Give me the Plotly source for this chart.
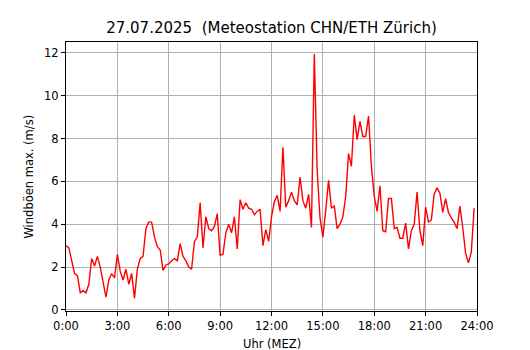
import pandas as pd
import plotly.graph_objects as go

times = pd.date_range("2025-07-27 00:00", periods=144, freq="10min")

gusts = [
    # 00:00 - 02:50
    3.0, 2.9, 2.3, 1.7, 1.6, 0.8, 0.9, 0.8, 1.2, 2.4, 2.05, 2.5, 2.0, 1.2, 0.6, 1.4, 1.7, 1.5,
    # 03:00 - 05:50
    2.6, 1.8, 1.4, 1.9, 1.2, 1.7, 0.55, 1.9, 2.4, 2.5, 3.8, 4.1, 4.1, 3.4, 2.95, 2.8, 1.85, 2.1,
    # 06:00 - 08:50
    2.15, 2.3, 2.4, 2.3, 3.1, 2.5, 2.3, 2.0, 1.9, 3.2, 3.4, 5.0, 2.9, 4.35, 3.8, 3.7, 3.9, 4.5,
    # 09:00 - 11:50
    2.55, 2.6, 3.6, 4.0, 3.6, 4.35, 2.85, 5.15, 4.7, 5.0, 4.75, 4.7, 4.45, 4.6, 4.7, 3.0, 3.75, 3.2,
    # 12:00 - 14:50
    4.35, 5.05, 5.35, 4.6, 7.6, 4.8, 5.1, 5.5, 5.1, 4.9, 6.2, 5.1, 4.75, 5.4, 3.85, 11.95, 6.5, 4.3,
    # 15:00 - 17:50
    3.4, 4.65, 6.05, 4.75, 4.85, 3.8, 4.0, 4.35, 5.3, 7.3, 6.7, 9.1, 7.95, 8.8, 8.1, 8.1, 9.05, 6.7,
    # 18:00 - 20:50
    5.3, 4.6, 5.8, 3.7, 3.65, 5.2, 5.2, 3.8, 3.85, 3.35, 3.35, 4.05, 2.85, 3.7, 4.0, 5.5, 3.7, 3.0,
    # 21:00 - 23:50
    4.8, 4.1, 4.2, 5.4, 5.7, 5.45, 4.55, 5.2, 4.55, 4.3, 4.1, 3.8, 4.85, 3.85, 2.65, 2.2, 2.7, 4.75,
]

tick_times = pd.date_range("2025-07-27 00:00", periods=9, freq="3h")
tick_labels = ["0:00", "3:00", "6:00", "9:00", "12:00", "15:00", "18:00", "21:00", "24:00"]
y_ticks = [0, 2, 4, 6, 8, 10, 12]

title_text = "27.07.2025  (Meteostation CHN/ETH Zürich)"
x_title = "Uhr (MEZ)"
y_title = "Windböen max. (m/s)"

font_family = "DejaVu Sans"

fig = go.Figure()
fig.add_trace(go.Scatter(
    x=times, y=gusts, mode="lines",
    line=dict(color="#ff0000", width=1.4),
    showlegend=False, hoverinfo="skip",
))

fig.update_layout(
    width=530, height=350,
    margin=dict(l=66, r=53, t=42, b=39, autoexpand=False),
    paper_bgcolor="white", plot_bgcolor="white",
    font=dict(family=font_family, size=11.5, color="black"),
    title=dict(text=title_text, x=0.5, xref="paper", xanchor="center",
               y=1 - 28 / 350, yref="container", yanchor="middle",
               font=dict(family=font_family, size=15, color="black")),
    annotations=[
        dict(text=x_title, xref="paper", yref="paper", x=0.5, y=0,
             xanchor="center", yanchor="middle", yshift=-33, showarrow=False,
             font=dict(family=font_family, size=11.5, color="black")),
        dict(text=y_title, xref="paper", yref="paper", x=0, y=0.5,
             xanchor="center", yanchor="middle", xshift=-38, textangle=-90,
             showarrow=False,
             font=dict(family=font_family, size=11.5, color="black")),
    ],
)

fig.update_xaxes(
    type="date",
    range=[tick_times[0], tick_times[-1]],
    tickvals=list(tick_times), ticktext=tick_labels,
    showgrid=True, gridcolor="#b0b0b0", gridwidth=1,
    showline=True, linecolor="black", linewidth=1, mirror=True,
    ticks="outside", ticklen=4, tickcolor="black", tickwidth=1,
    zeroline=False, automargin=False,
)
fig.update_yaxes(
    range=[-0.05, 12.51],
    tickvals=y_ticks,
    showgrid=True, gridcolor="#b0b0b0", gridwidth=1,
    showline=True, linecolor="black", linewidth=1, mirror=True,
    ticks="outside", ticklen=4, tickcolor="black", tickwidth=1,
    zeroline=False, automargin=False,
)

fig.write_html("out.html", config={"displayModeBar": False, "staticPlot": True},
               post_script="document.body.style.margin='0px';")
